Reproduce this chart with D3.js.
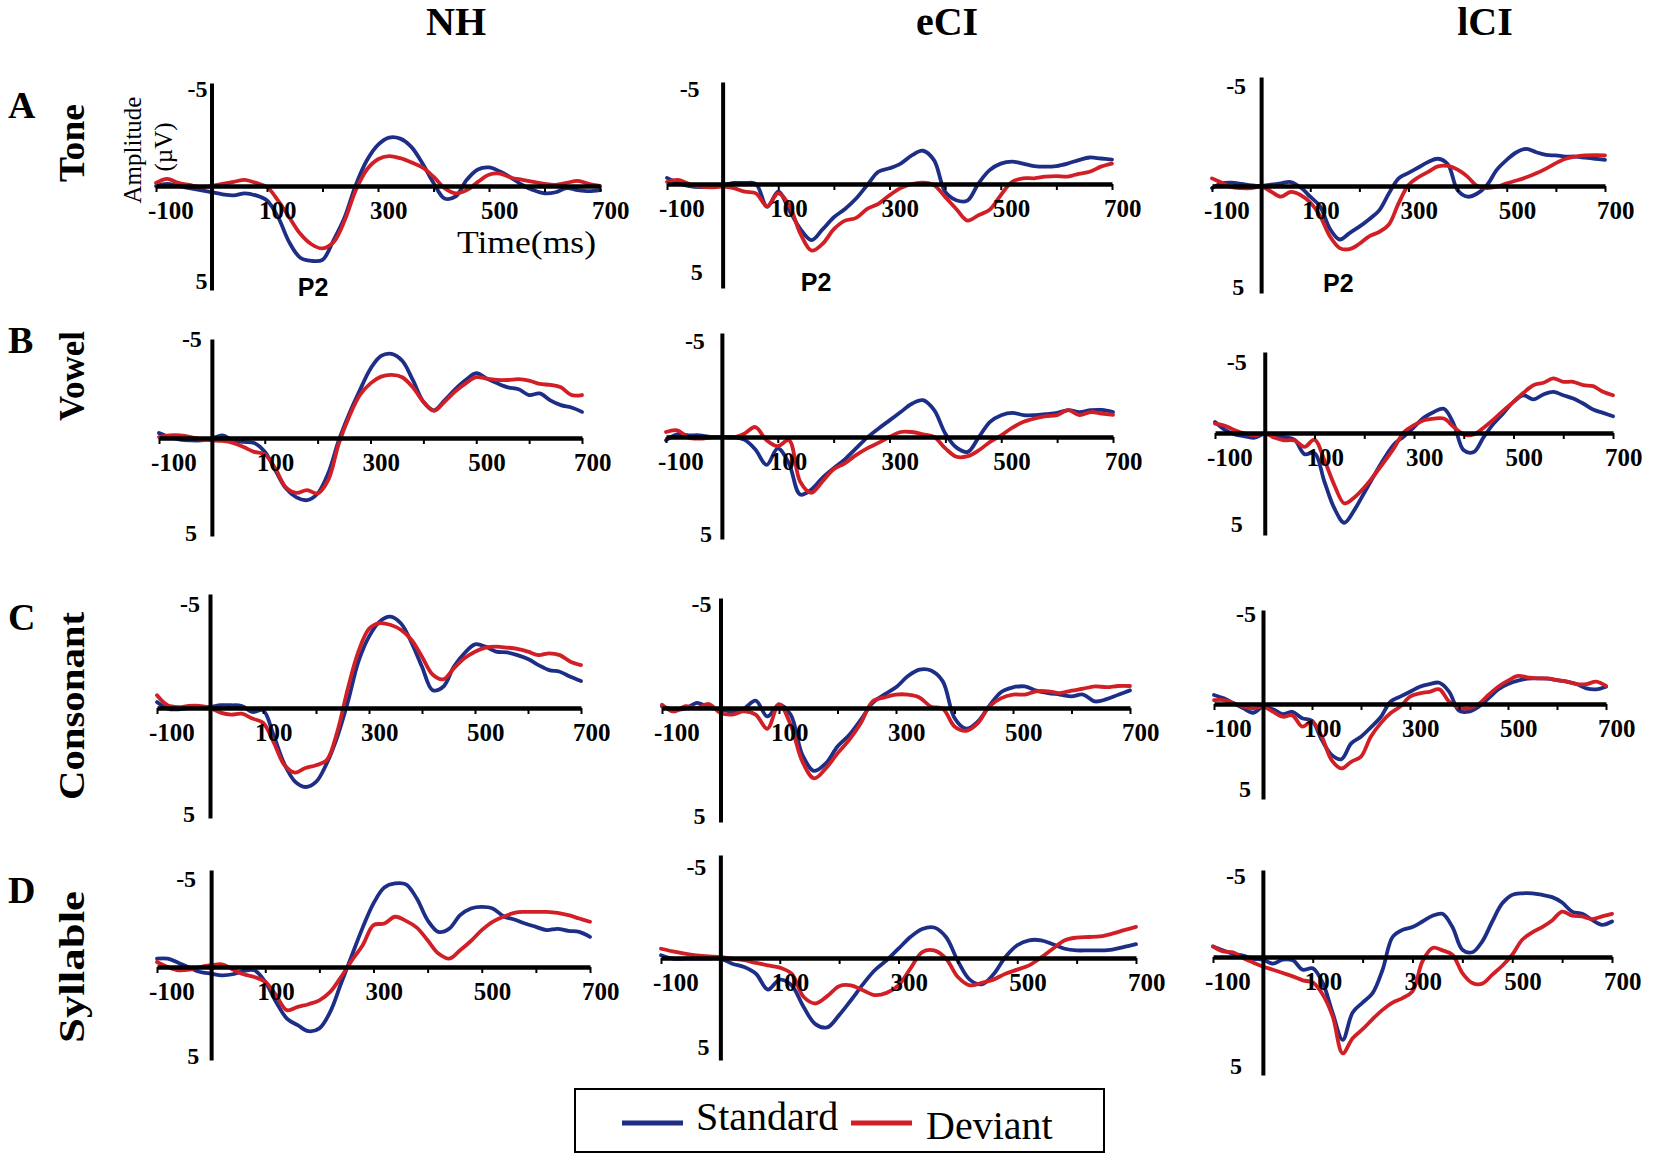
<!DOCTYPE html>
<html><head><meta charset="utf-8">
<script src="https://cdn.jsdelivr.net/npm/d3@7"></script>
<style>body{margin:0;background:#fff} svg{display:block}</style>
</head><body><svg id="chart" width="1653" height="1161"></svg>
<script>
// ---------- categories / ticks ----------
const columns = ["NH", "eCI", "lCI"];
const rows = ["Tone", "Vowel", "Consonant", "Syllable"];
const rowLetters = ["A", "B", "C", "D"];
const seriesNames = ["Standard", "Deviant"];
const xTickLabels = [-100, 100, 300, 500, 700];
const xMinorTicks = [-100, 0, 100, 200, 300, 400, 500, 600, 700];
const yTickLabels = [-5, 5];
const times = [-100,-80,-60,-40,-20,0,20,40,60,80,100,120,140,160,180,200,220,240,260,280,300,
  320,340,360,380,400,420,440,460,480,500,520,540,560,580,600,620,640,660,680,700];

// ---------- series values (µV, negative up) ----------
const tone_NH_standard = [0.0,-0.1,0.0,0.1,0.2,0.3,0.4,0.45,0.35,0.45,0.7,1.5,2.7,3.45,3.6,3.55,2.6,1.5,-0.05,-1.25,-2.0,-2.35,-2.3,-1.9,-1.1,-0.15,0.6,0.5,-0.3,-0.8,-0.9,-0.7,-0.4,-0.05,0.2,0.35,0.3,0.1,0.2,0.25,0.2];
const tone_NH_deviant = [-0.15,-0.35,-0.15,-0.05,0.05,0,-0.1,-0.2,-0.3,-0.15,0.05,0.7,1.5,2.3,2.8,3.0,2.7,1.65,0.2,-0.8,-1.3,-1.45,-1.35,-1.15,-0.9,-0.45,0.1,0.35,0.2,-0.2,-0.55,-0.6,-0.4,-0.3,-0.2,-0.1,-0.05,-0.15,-0.25,-0.1,0];
const tone_eCI_standard = [-0.3,-0.05,0.1,0.15,0.1,0.05,-0.05,-0.05,0,1.1,0.37,1.27,2.17,2.7,2.17,1.6,1.2,0.7,0.05,-0.6,-0.77,-1.0,-1.4,-1.63,-1.17,0.37,0.78,0.8,-0.03,-0.68,-1.0,-1.1,-1.0,-0.88,-0.85,-0.88,-1.0,-1.17,-1.3,-1.25,-1.2];
const tone_eCI_deviant = [-0.1,-0.2,0,0.13,0.16,0.13,0.2,0.37,0.45,1.07,0.45,1.03,2.4,3.2,2.87,2.17,1.76,1.63,1.2,0.95,0.54,0.2,0,-0.07,0.05,0.62,1.2,1.76,1.5,1.24,0.54,-0.1,-0.28,-0.28,-0.36,-0.39,-0.36,-0.5,-0.6,-0.85,-1.0];
const tone_lCI_standard = [0.1,-0.12,-0.15,-0.1,-0.03,0,-0.06,-0.12,-0.18,0.06,0.5,0.95,2.0,2.5,2.2,1.9,1.55,1.15,0.35,-0.35,-0.6,-0.85,-1.1,-1.25,-1.0,0.2,0.5,0.35,-0.05,-0.75,-1.2,-1.55,-1.7,-1.55,-1.43,-1.4,-1.35,-1.35,-1.3,-1.25,-1.2];
const tone_lCI_deviant = [-0.35,-0.15,0.06,0.1,0.1,0.03,0.26,0.5,0.28,0.42,0.77,1.4,2.35,2.9,2.95,2.7,2.35,2.15,1.8,0.8,-0.05,-0.4,-0.65,-0.9,-0.92,-0.75,-0.43,0,0.1,0.03,-0.12,-0.25,-0.4,-0.58,-0.8,-1.05,-1.25,-1.35,-1.4,-1.42,-1.4];

const vowel_NH_standard = [-0.25,-0.05,0.08,0.12,0.12,0.03,-0.13,0.12,0.2,0.25,0.7,1.65,2.57,3.03,3.17,2.83,1.8,0.12,-1.24,-2.42,-3.5,-4.15,-4.25,-3.9,-2.93,-1.83,-1.4,-1.9,-2.46,-2.93,-3.27,-3.0,-2.76,-2.56,-2.46,-2.17,-2.25,-1.9,-1.66,-1.54,-1.32];
const vowel_NH_deviant = [-0.05,-0.13,-0.13,-0.05,0.08,0.12,0.15,0.25,0.46,0.71,0.83,1.56,2.52,2.8,2.66,2.83,2.15,0.29,-1.1,-2.17,-2.76,-3.1,-3.19,-3.07,-2.56,-1.83,-1.37,-1.83,-2.34,-2.76,-3.07,-3.0,-2.93,-2.93,-2.97,-2.9,-2.73,-2.68,-2.56,-2.17,-2.17];
const vowel_eCI_standard = [0.16,-0.13,-0.08,-0.08,0,0,0,0.13,0.61,1.37,0.56,1.29,2.82,2.58,2.0,1.53,1.1,0.56,0.03,-0.4,-0.8,-1.2,-1.6,-1.77,-1.29,-0.16,0.52,0.73,0,-0.73,-1.05,-1.16,-1.05,-1.05,-1.1,-1.16,-1.29,-1.2,-1.29,-1.3,-1.2];
const vowel_eCI_deviant = [-0.24,-0.32,0.03,0.08,0.03,0,0.03,-0.16,-0.48,0.16,0.45,0.16,2.18,2.74,2.18,1.58,1.29,0.89,0.56,0.29,0,-0.24,-0.24,-0.13,0,0.56,0.97,0.94,0.65,0.24,-0.08,-0.45,-0.73,-0.89,-1.0,-1.05,-1.29,-1.05,-1.2,-1.13,-1.07];
const vowel_lCI_standard = [-0.68,-0.2,0.07,0.16,0.23,0.03,0.11,0.2,0.33,1.04,0.98,2.39,3.7,4.4,3.78,2.93,2.07,1.25,0.55,0.16,-0.37,-0.95,-1.3,-1.5,-0.54,0.85,0.93,0.2,-0.58,-1.24,-1.92,-2.33,-2.07,-2.38,-2.54,-2.33,-2.13,-1.82,-1.45,-1.24,-1.03];
const vowel_lCI_deviant = [-0.58,-0.45,-0.17,0.03,0.11,0.03,0.23,0.36,0.36,0.68,0.33,1.34,2.56,3.45,3.16,2.67,2.07,1.42,0.73,-0.06,-0.48,-0.79,-0.89,-0.89,-0.37,0.07,0.07,-0.33,-0.83,-1.4,-1.92,-2.48,-2.95,-3.1,-3.37,-3.16,-3.16,-2.95,-2.89,-2.54,-2.33];

const consonant_NH_standard = [-0.26,0.03,0.06,0,-0.04,-0.04,-0.12,-0.12,-0.09,0.18,0.1,1.24,2.53,3.33,3.59,3.36,2.53,1.32,-0.26,-2.03,-3.13,-3.79,-4.01,-3.72,-2.88,-1.81,-0.78,-0.93,-1.81,-2.4,-2.79,-2.69,-2.47,-2.44,-2.32,-2.15,-1.88,-1.66,-1.59,-1.37,-1.18];
const consonant_NH_deviant = [-0.56,-0.12,-0.04,-0.09,-0.09,0,0.21,0.3,0.26,0.48,0.67,1.55,2.58,2.94,2.73,2.6,2.38,1.09,-0.85,-2.47,-3.47,-3.72,-3.65,-3.43,-2.99,-2.25,-1.47,-1.26,-1.74,-2.18,-2.47,-2.65,-2.69,-2.65,-2.59,-2.47,-2.32,-2.4,-2.32,-2.03,-1.88];
const consonant_eCI_standard = [-0.08,0.07,0.03,-0.23,-0.03,0.07,0.15,0.03,-0.33,0.37,-0.15,0.3,2.06,2.76,2.43,1.69,1.18,0.51,-0.23,-0.61,-0.94,-1.44,-1.74,-1.7,-1.21,0.44,0.91,0.59,-0.12,-0.73,-0.94,-0.98,-0.79,-0.68,-0.61,-0.53,-0.61,-0.3,-0.4,-0.6,-0.8];
const consonant_eCI_deviant = [-0.15,0.15,-0.08,0,-0.18,0.22,0.29,0.15,0.29,0.91,-0.18,0.74,2.35,3.09,2.65,1.99,1.4,0.66,-0.3,-0.48,-0.61,-0.61,-0.48,-0.06,0.03,0.81,1.0,0.66,-0.08,-0.45,-0.61,-0.61,-0.76,-0.76,-0.68,-0.79,-0.88,-0.98,-0.95,-1.0,-1.0];
const consonant_lCI_standard = [-0.48,-0.3,-0.04,0.23,0.46,0.14,0.28,0.53,0.42,0.75,0.88,1.89,2.68,2.91,2.07,1.72,1.23,0.7,-0.12,-0.39,-0.65,-0.92,-1.06,-1.13,-0.65,0.35,0.4,0.14,-0.3,-0.78,-1.06,-1.24,-1.35,-1.36,-1.35,-1.27,-1.19,-1.06,-0.83,-0.78,-0.92];
const consonant_lCI_deviant = [-0.21,-0.21,-0.04,0.14,0.23,0.14,0.4,0.67,0.6,1.19,0.93,1.72,2.95,3.39,3.04,2.77,1.72,1.02,0.49,0.14,-0.39,-0.57,-0.65,-0.78,-0.12,0.18,0.23,0,-0.48,-0.92,-1.24,-1.49,-1.42,-1.36,-1.36,-1.27,-1.19,-1.06,-1.06,-1.19,-0.96];

const syllable_NH_standard = [-0.43,-0.43,-0.21,0.04,0.27,0.36,0.45,0.39,0.21,0.18,0.8,1.88,2.77,3.13,3.45,3.3,2.41,0.89,-0.6,-2.03,-3.28,-4.1,-4.31,-4.26,-3.53,-2.41,-1.81,-1.98,-2.67,-3.02,-3.1,-3.02,-2.62,-2.45,-2.24,-2.07,-1.9,-1.97,-1.86,-1.81,-1.55];
const syllable_NH_deviant = [-0.26,0,0.18,0.14,0,-0.09,-0.14,0.14,0.39,0.54,0.8,1.52,2.32,2.14,2.0,1.79,1.34,0.54,-0.34,-1.12,-2.16,-2.24,-2.59,-2.38,-2.03,-1.38,-0.69,-0.43,-0.86,-1.34,-1.9,-2.33,-2.59,-2.79,-2.84,-2.84,-2.84,-2.79,-2.67,-2.5,-2.33];
const syllable_eCI_standard = [-0.13,0.03,0.03,0.03,0.03,0.03,0.28,0.44,0.77,1.55,1.06,1.34,2.39,3.24,3.4,2.8,2.07,1.29,0.6,0.11,-0.45,-1.02,-1.41,-1.48,-1.02,0.15,1.06,1.29,0.8,-0.05,-0.62,-0.86,-0.86,-0.67,-0.45,-0.37,-0.37,-0.37,-0.41,-0.54,-0.67];
const syllable_eCI_deviant = [-0.45,-0.32,-0.21,-0.13,-0.08,-0.05,0.03,0.11,0.24,0.36,0.47,0.77,1.9,2.23,1.87,1.38,1.34,1.58,1.82,1.71,1.34,0.52,-0.29,-0.37,0.03,0.93,1.34,1.22,1.06,0.77,0.57,0.36,-0.02,-0.45,-0.86,-0.99,-1.02,-1.05,-1.18,-1.35,-1.51];
const syllable_lCI_standard = [-0.61,-0.38,-0.19,-0.08,0.08,0.11,0.28,0.11,0.14,0.54,0.48,1.1,2.38,3.51,2.35,1.93,1.53,0.54,-1.15,-1.56,-1.72,-2.04,-2.37,-2.48,-1.72,-0.42,-0.27,-0.9,-2.04,-3.09,-3.57,-3.66,-3.66,-3.57,-3.44,-3.13,-2.61,-2.48,-2.14,-1.85,-2.04];
const syllable_lCI_deviant = [-0.61,-0.32,-0.27,0.04,0.23,0.4,0.54,0.68,0.82,0.99,1.08,1.59,2.52,4.08,3.44,3.06,2.63,2.24,1.93,1.74,1.46,0.18,-0.52,-0.38,-0.13,0.68,1.1,1.13,0.75,0.37,-0.13,-0.99,-1.41,-1.72,-2.1,-2.61,-2.37,-2.33,-2.18,-2.33,-2.48];

// P2 annotation (time in ms) for the Tone row
const p2Times = [183, 168, 157];

// ---------- series lookup ----------
const seriesData = {
  Tone: { NH: [tone_NH_standard, tone_NH_deviant], eCI: [tone_eCI_standard, tone_eCI_deviant], lCI: [tone_lCI_standard, tone_lCI_deviant] },
  Vowel: { NH: [vowel_NH_standard, vowel_NH_deviant], eCI: [vowel_eCI_standard, vowel_eCI_deviant], lCI: [vowel_lCI_standard, vowel_lCI_deviant] },
  Consonant: { NH: [consonant_NH_standard, consonant_NH_deviant], eCI: [consonant_eCI_standard, consonant_eCI_deviant], lCI: [consonant_lCI_standard, consonant_lCI_deviant] },
  Syllable: { NH: [syllable_NH_standard, syllable_NH_deviant], eCI: [syllable_eCI_standard, syllable_eCI_deviant], lCI: [syllable_lCI_standard, syllable_lCI_deviant] }
};

// ---------- layout (pixel geometry per panel) ----------
const layout = [
  [ {x0:156,x1:600,y0:186,yTop:83,yBot:290,neg:[-4,14],pos:[-4,-1]},
    {x0:667,x1:1112,y0:184,yTop:82,yBot:288,neg:[-23,15],pos:[-20,-8]},
    {x0:1212,x1:1605,y0:186,yTop:77,yBot:293,neg:[-15,17],pos:[-17,2]} ],
  [ {x0:159,x1:582,y0:438,yTop:339,yBot:536,neg:[-10,8],pos:[-15,5]},
    {x0:666,x1:1113,y0:437,yTop:333,yBot:539,neg:[-17,16],pos:[-10,3]},
    {x0:1215,x1:1613,y0:433,yTop:352,yBot:535,neg:[-18,18],pos:[-22,-3]} ],
  [ {x0:157,x1:581,y0:708,yTop:594,yBot:818,neg:[-10,18],pos:[-15,4]},
    {x0:662,x1:1130,y0:708,yTop:598,yBot:822,neg:[-9,14],pos:[-15,2]},
    {x0:1214,x1:1606,y0:704,yTop:610,yBot:799,neg:[-7,12],pos:[-12,-2]} ],
  [ {x0:157,x1:590,y0:967,yTop:870,yBot:1060,neg:[-15,17],pos:[-12,4]},
    {x0:661,x1:1136,y0:958,yTop:855,yBot:1060,neg:[-14,20],pos:[-11,-5]},
    {x0:1213,x1:1612,y0:957,yTop:870,yBot:1075,neg:[-17,14],pos:[-21,-1]} ]
];
const colTitleX = [456, 947, 1485];
const rowLetterY = [118, 353, 630, 903];
const rowLabelY = [143, 376, 706, 967];
const rowLabelLen = [78, 90, 188, 152];
const p2Dy = [6, 3, -1];

const colors = { Standard: "#1d2e86", Deviant: "#d21f26" };
const serif = "'Liberation Serif','Times New Roman',serif";
const sans = "'Liberation Sans',Arial,sans-serif";

const svg = d3.select("#chart");
svg.append("rect").attr("width",1653).attr("height",1161).attr("fill","#fff");

// column titles
svg.selectAll("text.coltitle").data(columns).join("text")
  .attr("class","coltitle")
  .attr("x",(d,i)=>colTitleX[i]).attr("y",35)
  .attr("text-anchor","middle")
  .attr("font-family",serif).attr("font-weight","bold").attr("font-size",40)
  .text(d=>d);

// row letters and row labels
svg.selectAll("text.rowletter").data(rowLetters).join("text")
  .attr("class","rowletter")
  .attr("x",8).attr("y",(d,i)=>rowLetterY[i])
  .attr("font-family",serif).attr("font-weight","bold").attr("font-size",38)
  .text(d=>d);
svg.selectAll("text.rowlabel").data(rows).join("text")
  .attr("class","rowlabel")
  .attr("transform",(d,i)=>`translate(84,${rowLabelY[i]}) rotate(-90)`)
  .attr("text-anchor","middle")
  .attr("font-family",serif).attr("font-weight","bold").attr("font-size",35)
  .attr("textLength",(d,i)=>rowLabelLen[i])
  .attr("lengthAdjust","spacingAndGlyphs")
  .text(d=>d);

rows.forEach((rowName, r) => {
  columns.forEach((colName, c) => {
    const L = layout[r][c];
    const x = d3.scaleLinear().domain([-100, 700]).range([L.x0, L.x1]);
    const y = d3.scaleLinear().domain([-5, 0, 5]).range([L.yTop, L.y0, L.yBot]);
    const g = svg.append("g").attr("class", `panel-${rowName}-${colName}`);

    // curves
    const line = d3.line()
      .x((d, i) => x(times[i]))
      .y(d => y(d))
      .curve(d3.curveCatmullRom.alpha(0.5));
    seriesNames.forEach((s, si) => {
      g.append("path")
        .datum(seriesData[rowName][colName][si])
        .attr("fill","none")
        .attr("stroke", colors[s])
        .attr("stroke-width", 3.8)
        .attr("stroke-linejoin","round")
        .attr("stroke-linecap","round")
        .attr("d", line);
    });

    // x axis (zero line) with minor ticks
    const gx = g.append("g").attr("transform", `translate(0,${y(0)})`)
      .call(d3.axisBottom(x).tickValues(xMinorTicks).tickSize(6).tickSizeOuter(0).tickFormat(""));
    gx.select(".domain").attr("stroke","#000").attr("stroke-width",4.5);
    gx.selectAll(".tick line").attr("stroke","#000").attr("stroke-width",2);

    // y axis at t = 0
    const gy = g.append("g").attr("transform", `translate(${x(0)},0)`)
      .call(d3.axisLeft(y).tickValues([]).tickSizeOuter(0));
    gy.select(".domain").attr("stroke","#000").attr("stroke-width",4);

    // x tick labels
    g.selectAll("text.xlab").data(xTickLabels).join("text")
      .attr("class","xlab")
      .attr("x", d => x(d) - 8).attr("y", y(0) + 33)
      .attr("font-family",serif).attr("font-weight","bold").attr("font-size",25)
      .text(d => d);

    // y tick labels
    g.selectAll("text.ylab").data(yTickLabels).join("text")
      .attr("class","ylab")
      .attr("x", d => x(0) + (d < 0 ? L.neg[0] : L.pos[0]))
      .attr("y", d => y(d) + (d < 0 ? L.neg[1] : L.pos[1]))
      .attr("text-anchor","end")
      .attr("font-family",serif).attr("font-weight","bold").attr("font-size",24)
      .text(d => d);

    if (r === 0) {
      g.append("text")
        .attr("x", x(p2Times[c])).attr("y", y(5) + p2Dy[c])
        .attr("text-anchor","middle")
        .attr("font-family",sans).attr("font-weight","bold").attr("font-size",25)
        .text("P2");
    }
    if (r === 0 && c === 0) {
      g.append("text").attr("x",457).attr("y",253)
        .attr("font-family",serif).attr("font-size",32)
        .attr("textLength",139).attr("lengthAdjust","spacingAndGlyphs")
        .text("Time(ms)");
      g.append("text").attr("transform","translate(141,150) rotate(-90)")
        .attr("text-anchor","middle")
        .attr("font-family",serif).attr("font-size",25).text("Amplitude");
      g.append("text").attr("transform","translate(172,147) rotate(-90)")
        .attr("text-anchor","middle")
        .attr("font-family",serif).attr("font-size",25).text("(µV)");
    }
  });
});

// legend
const lg = svg.append("g").attr("class","legend");
lg.append("rect").attr("x",575).attr("y",1089).attr("width",529).attr("height",63)
  .attr("fill","#fff").attr("stroke","#000").attr("stroke-width",2);
const legendItems = [
  {name: seriesNames[0], lx: 622, tx: 696, ty: 1130, fs: 40},
  {name: seriesNames[1], lx: 851, tx: 926, ty: 1139, fs: 40}
];
legendItems.forEach(it => {
  lg.append("line").attr("x1",it.lx).attr("x2",it.lx+61).attr("y1",1123).attr("y2",1123)
    .attr("stroke",colors[it.name]).attr("stroke-width",5);
  lg.append("text").attr("x",it.tx).attr("y",it.ty)
    .attr("font-family",serif).attr("font-size",it.fs).text(it.name);
});
</script></body></html>
